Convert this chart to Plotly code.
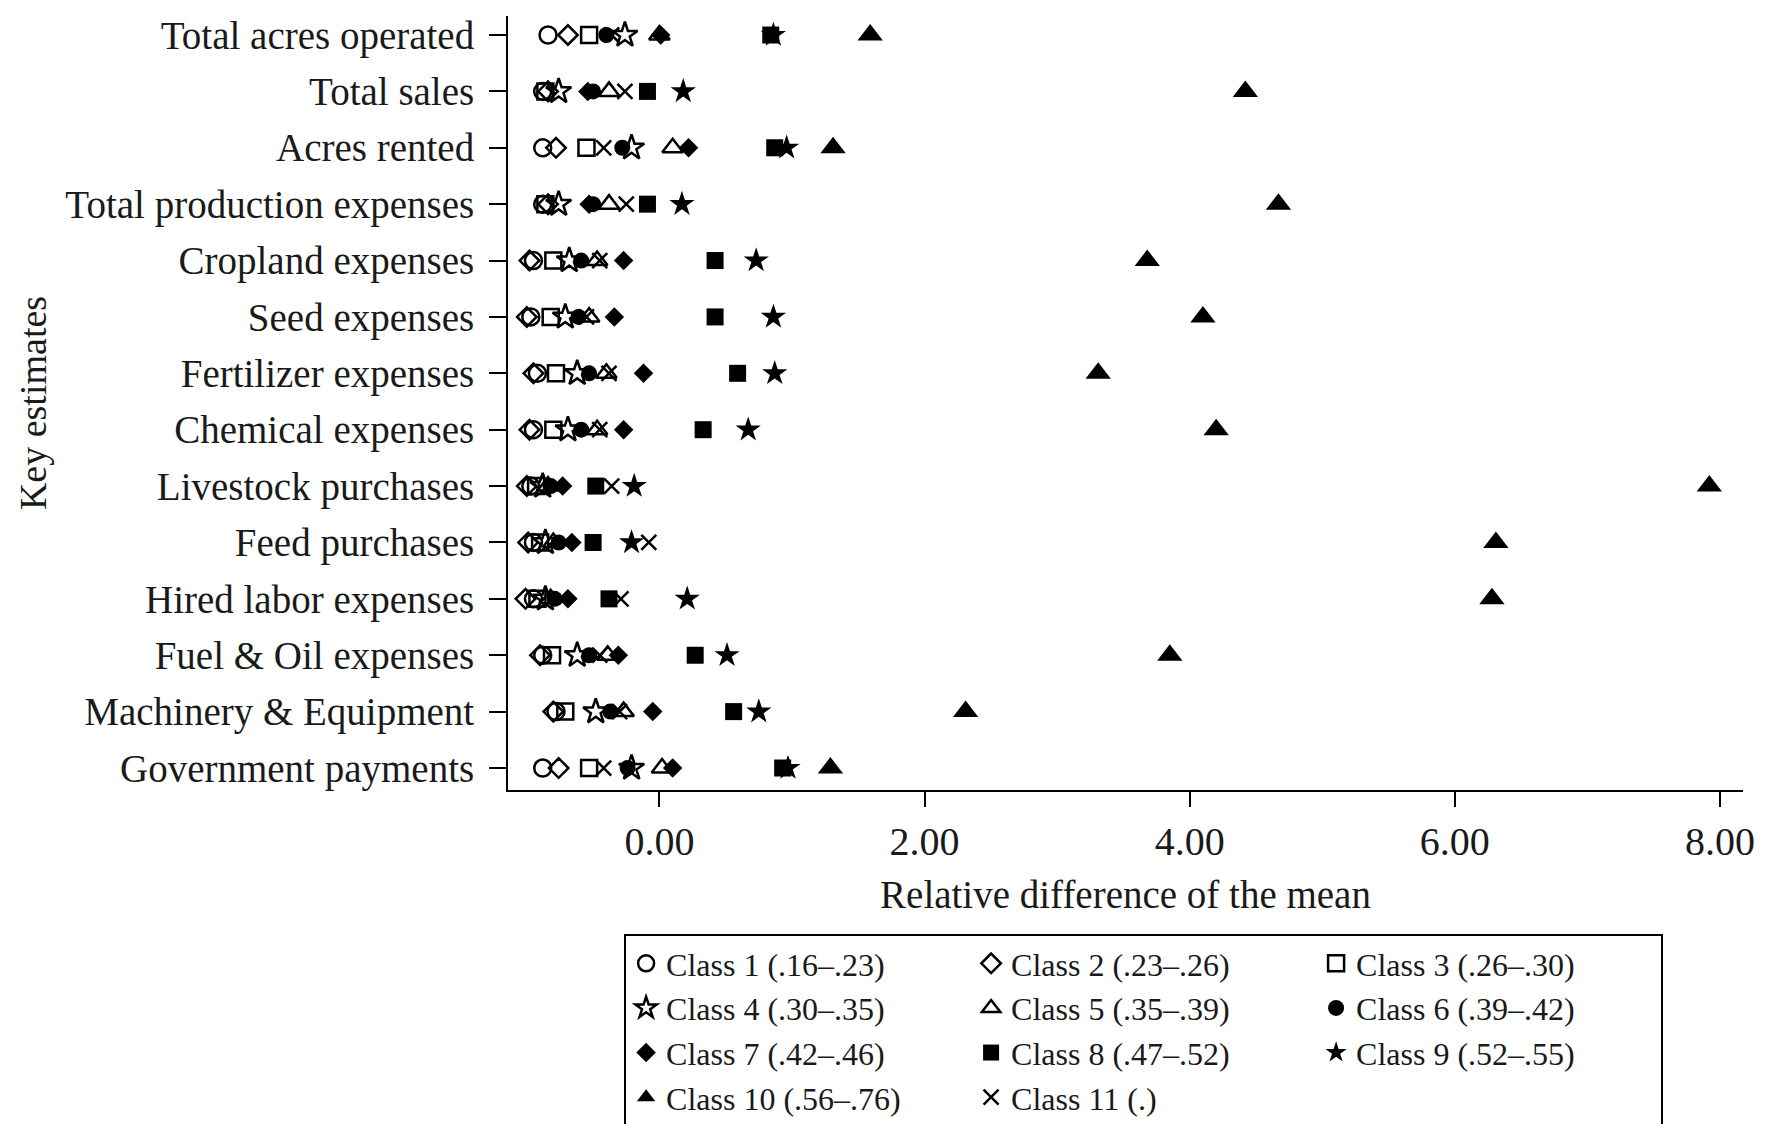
import plotly.graph_objects as go

estimates = [
    "Total acres operated", "Total sales", "Acres rented", "Total production expenses",
    "Cropland expenses", "Seed expenses", "Fertilizer expenses", "Chemical expenses",
    "Livestock purchases", "Feed purchases", "Hired labor expenses", "Fuel & Oil expenses",
    "Machinery & Equipment", "Government payments",
]

class_names = [
    "Class 1 (.16\u2013.23)", "Class 2 (.23\u2013.26)", "Class 3 (.26\u2013.30)",
    "Class 4 (.30\u2013.35)", "Class 5 (.35\u2013.39)", "Class 6 (.39\u2013.42)",
    "Class 7 (.42\u2013.46)", "Class 8 (.47\u2013.52)", "Class 9 (.52\u2013.55)",
    "Class 10 (.56\u2013.76)", "Class 11 (.)",
]

class1 = [-0.84, -0.88, -0.88, -0.88, -0.95, -0.97, -0.92, -0.95, -0.97, -0.95, -0.95, -0.88, -0.78, -0.88]
class2 = [-0.69, -0.84, -0.78, -0.84, -0.98, -1.00, -0.95, -0.98, -1.00, -0.99, -1.01, -0.90, -0.80, -0.76]
class3 = [-0.53, -0.86, -0.55, -0.86, -0.80, -0.82, -0.78, -0.80, -0.93, -0.90, -0.92, -0.81, -0.71, -0.53]
class4 = [-0.26, -0.76, -0.21, -0.76, -0.68, -0.71, -0.62, -0.69, -0.88, -0.86, -0.86, -0.62, -0.48, -0.21]
class5 = [0.00, -0.38, 0.10, -0.38, -0.47, -0.53, -0.40, -0.47, -0.84, -0.80, -0.82, -0.39, -0.27, 0.02]
class6 = [-0.40, -0.50, -0.28, -0.50, -0.59, -0.61, -0.53, -0.59, -0.82, -0.76, -0.79, -0.53, -0.37, -0.24]
class7 = [0.01, -0.54, 0.22, -0.53, -0.27, -0.34, -0.12, -0.27, -0.73, -0.66, -0.69, -0.31, -0.05, 0.10]
class8 = [0.84, -0.09, 0.87, -0.09, 0.42, 0.42, 0.59, 0.33, -0.48, -0.50, -0.38, 0.27, 0.56, 0.93]
class9 = [0.86, 0.18, 0.96, 0.17, 0.73, 0.86, 0.87, 0.67, -0.19, -0.21, 0.21, 0.51, 0.75, 0.97]
class10 = [1.59, 4.42, 1.31, 4.67, 3.68, 4.10, 3.31, 4.20, 7.92, 6.31, 6.28, 3.85, 2.31, 1.29]
class11 = [-0.36, -0.26, -0.42, -0.25, -0.45, -0.55, -0.38, -0.45, -0.36, -0.08, -0.29, -0.45, -0.30, -0.42]

x_ticks = [0, 2, 4, 6, 8]
x_tick_labels = ["0.00", "2.00", "4.00", "6.00", "8.00"]

series = [class1, class2, class3, class4, class5, class6, class7, class8, class9, class10, class11]
symbols = ["circle-open", "diamond-open", "square-open", "star-open", "triangle-up-open",
           "circle", "diamond", "square", "star", "triangle-up", "x-thin-open"]
sizes = [17, 15, 16, 19, 18, 16, 15, 17, 19, 22, 15]

SERIF = "Liberation Serif, Times New Roman, serif"
INK = "#1a1a1a"

fig = go.Figure()
for name, vals, sym, sz in zip(class_names, series, symbols, sizes):
    is_open = sym.endswith("-open")
    fig.add_trace(go.Scatter(
        x=vals, y=estimates, mode="markers", name=name,
        marker=dict(symbol=sym, size=sz, color="black",
                    line=dict(color="black", width=2.5 if is_open else 0)),
    ))

fig.update_layout(
    width=1767, height=1124,
    margin=dict(l=508, r=19, t=16, b=334),
    paper_bgcolor="white", plot_bgcolor="white",
    font=dict(family=SERIF, color=INK),
    showlegend=True,
    legend=dict(
        orientation="h", xref="paper", yref="container",
        x=0.094, y=0.169, xanchor="left", yanchor="top",
        entrywidth=300, entrywidthmode="pixels",
        font=dict(family=SERIF, size=32, color=INK),
        bordercolor="black", borderwidth=2, bgcolor="white",
        traceorder="normal",
    ),
    xaxis=dict(
        range=[-1.142, 8.174], tickvals=x_ticks, ticktext=x_tick_labels,
        showgrid=False, zeroline=False, showline=True, linecolor="black", linewidth=2,
        ticks="outside", ticklen=15, tickwidth=2, tickcolor="black",
        tickfont=dict(family=SERIF, size=40, color=INK),
        title=dict(text="Relative difference of the mean", font=dict(family=SERIF, size=39, color=INK), standoff=18),
    ),
    yaxis=dict(
        type="category", categoryorder="array", categoryarray=estimates,
        range=[13.39, -0.337],
        showgrid=False, zeroline=False, showline=True, linecolor="black", linewidth=2,
        ticks="outside", ticklen=17, tickwidth=2, tickcolor="black",
        tickfont=dict(family=SERIF, size=39, color=INK),
        ticklabelstandoff=7,
        title=dict(text="Key estimates", font=dict(family=SERIF, size=38, color=INK), standoff=7),
    ),
)

fig.write_html("out.html")
